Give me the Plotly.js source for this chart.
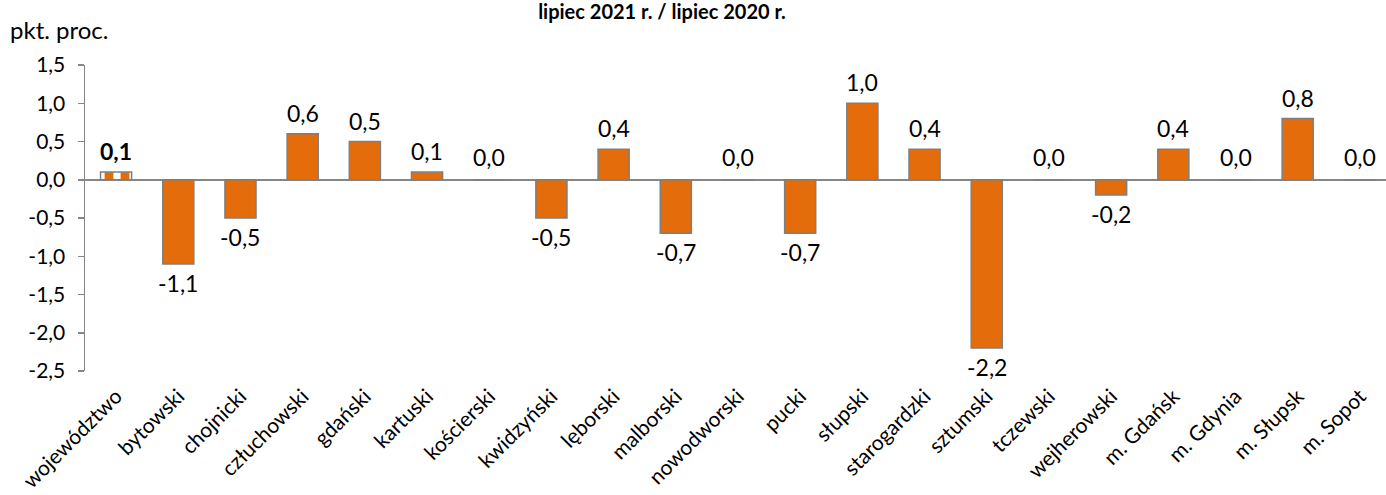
<!DOCTYPE html>
<html>
<head>
<meta charset="utf-8">
<script src="https://cdn.plot.ly/plotly-3.0.1.min.js"></script>
<style>html,body{margin:0;padding:0;background:#fff;overflow:hidden;}#chart{width:1386px;height:495px;}</style>
</head>
<body>
<div id="chart"></div>
<script>
const categories = ['województwo','bytowski','chojnicki','człuchowski','gdański','kartuski','kościerski','kwidzyński','lęborski','malborski','nowodworski','pucki','słupski','starogardzki','sztumski','tczewski','wejherowski','m. Gdańsk','m. Gdynia','m. Słupsk','m. Sopot'];
const values = [0.1,-1.1,-0.5,0.6,0.5,0.1,0.0,-0.5,0.4,-0.7,0.0,-0.7,1.0,0.4,-2.2,0.0,-0.2,0.4,0.0,0.8,0.0];
const yTickVals = [1.5,1.0,0.5,0,-0.5,-1.0,-1.5,-2.0,-2.5];
const yTickText = ['1,5','1,0','0,5','0,0','-0,5','-1,0','-1,5','-2,0','-2,5'];
const titleText = 'lipiec 2021 r. / lipiec 2020 r.';
const unitText = 'pkt. proc.';

const ORANGE = '#E46C0A';
const fmt = v => v.toFixed(1).replace('.', ',');

const trace = {
  type: 'bar',
  x: categories,
  y: values,
  width: 0.5,
  marker: {
    color: ORANGE,
    line: {color: '#7F7F7F', width: 1.5},
    pattern: {
      shape: categories.map((c, i) => i === 0 ? '|' : ''),
      fgcolor: ORANGE,
      bgcolor: categories.map((c, i) => i === 0 ? '#FFFFFF' : ORANGE),
      size: 16,
      solidity: 0.55,
      fillmode: 'replace'
    }
  },
  hoverinfo: 'skip'
};

const annotations = values.map((v, i) => ({
  x: categories[i], y: v, xref: 'x', yref: 'y',
  text: i === 0 ? '<b>' + fmt(v) + '</b>' : fmt(v),
  showarrow: false,
  yanchor: 'middle', xanchor: 'center',
  yshift: v > 0 ? 21 : (v < 0 ? -19 : 23),
  font: {family: 'Lato, sans-serif', size: 23, color: '#000'}
}));
annotations.push({
  text: unitText, xref: 'paper', yref: 'paper',
  x: (8 - 85) / 1301, y: (371 - 30) / 306,
  xanchor: 'left', yanchor: 'middle', showarrow: false,
  font: {family: 'Lato, sans-serif', size: 24, color: '#000'}
});

const layout = {
  width: 1386, height: 495,
  margin: {l: 85, r: 0, t: 65, b: 124},
  paper_bgcolor: '#fff', plot_bgcolor: '#fff',
  showlegend: false,
  font: {family: 'Lato, sans-serif', size: 20, color: '#000'},
  title: {
    text: '<b>' + titleText + '</b>',
    xref: 'container', yref: 'container',
    x: 662 / 1386, y: 1 - 12 / 495, xanchor: 'center', yanchor: 'middle',
    font: {family: 'Lato, sans-serif', size: 20, color: '#000'}
  },
  xaxis: {
    type: 'category',
    range: [-0.5, 20.42],
    tickangle: -45,
    showline: false, showgrid: false, zeroline: false,
    ticks: '',
    ticklabelstandoff: 8,
    tickfont: {family: 'Lato, sans-serif', size: 21, color: '#000'},
    fixedrange: true
  },
  yaxis: {
    range: [-2.5, 1.5],
    tickvals: yTickVals, ticktext: yTickText,
    showline: true, linecolor: '#868686', linewidth: 1.5,
    ticks: 'outside', ticklen: 6, tickcolor: '#868686', tickwidth: 1.5,
    ticklabelstandoff: 8,
    showgrid: false,
    zeroline: true, zerolinecolor: '#868686', zerolinewidth: 1.5,
    tickfont: {family: 'Lato, sans-serif', size: 21, color: '#000'},
    fixedrange: true
  },
  annotations: annotations
};

Plotly.newPlot('chart', [trace], layout, {displayModeBar: false, staticPlot: true});
</script>
</body>
</html>
